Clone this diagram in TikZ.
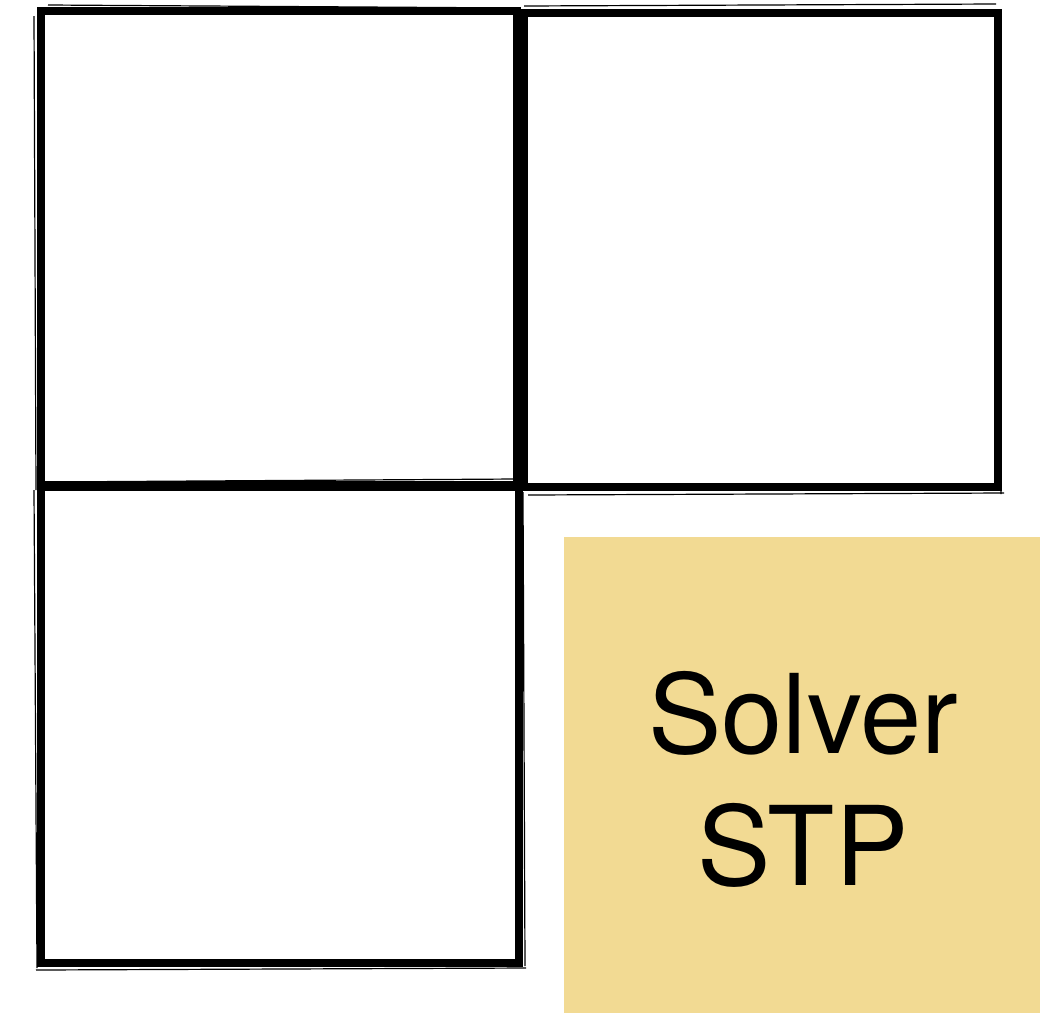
\documentclass[tikz,border=0pt]{standalone}
\usepackage{fontspec}
\setmainfont{TeX Gyre Heros}
\definecolor{solveryellow}{HTML}{F2DA93}
\begin{document}
\begin{tikzpicture}[x=1pt,y=-1pt,
  sketch/.style={draw=black,line width=8pt,line join=miter,minimum width=#1,minimum height=#1,inner sep=0pt},
  sketchthin/.style={draw=black,line width=1.2pt},
  solverbox/.style={fill=solveryellow,draw=none,minimum width=476pt,minimum height=476pt,inner sep=0pt},
  solvertext/.style={font=\fontsize{110}{132}\selectfont,align=center,inner sep=0pt,text=black}]
\useasboundingbox (0,0) rectangle (1040,1013);
% top-left square
\node[sketch=476pt] (tl) at (279,249) {};
\draw[sketchthin] (34,16) -- (36,490);
\draw[sketchthin] (48,5) -- (520,8);
\draw[sketchthin] (42,482) -- (515,479);
% top-right square
\node[sketch=474pt] (tr) at (761,250) {};
\draw[sketchthin] (997,10) -- (1001,494);
\draw[sketchthin] (528,495) -- (1004,493);
\draw[sketchthin] (524,6) -- (996,4);
% bottom-left square
\node[sketch=478pt] (bl) at (280,724) {};
\draw[sketchthin] (34,490) -- (37,968);
\draw[sketchthin] (36,970) -- (526,968);
\draw[sketchthin] (523,492) -- (525,966);
% solver box
\node[solverbox] (solver) at (802,775) {};
\node[solvertext] (label) at (803,779) {Solver\\STP};
\end{tikzpicture}
\end{document}
